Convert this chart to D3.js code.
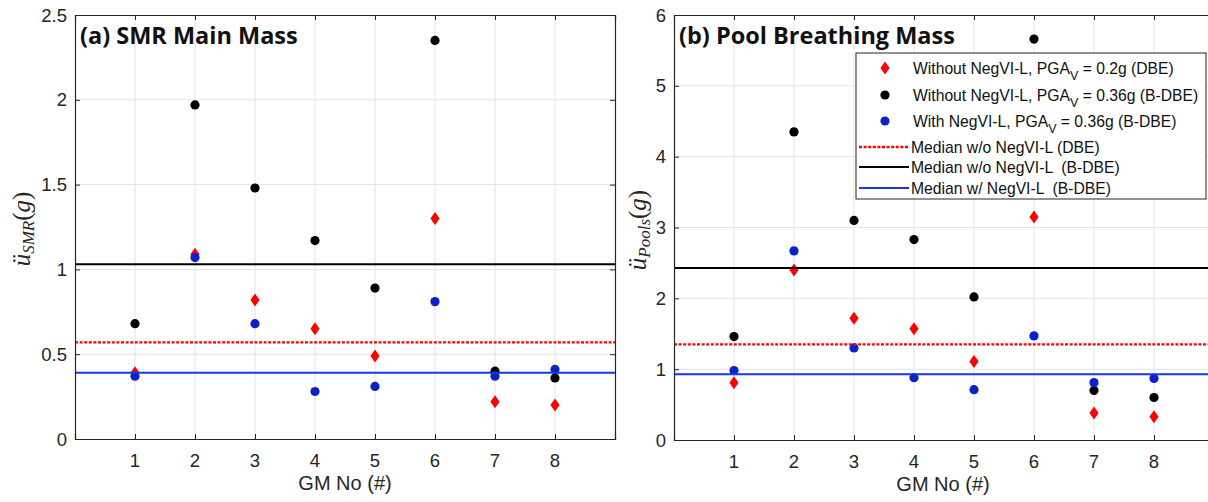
<!DOCTYPE html>
<html>
<head>
<meta charset="utf-8">
<script src="https://cdn.jsdelivr.net/npm/d3@7"></script>
<style>
    body { margin: 0; background: #fff; }
    svg { display: block; font-family: "Liberation Sans", Arial, sans-serif; }
    .grid line { stroke: #e3e3e3; stroke-width: 1; }
    .tick-lbl { font-size: 18.5px; fill: #262626; }
</style>
</head>
<body>
<svg id="chart" width="1208" height="502"></svg>
<script>
// ground motion numbers
const gmNo = [1, 2, 3, 4, 5, 6, 7, 8];

// (a) SMR main mass peak acceleration (g)
const smrDBE   = [0.39, 1.09, 0.82, 0.65, 0.49, 1.30, 0.22, 0.20];
const smrBDBE  = [0.68, 1.97, 1.48, 1.17, 0.89, 2.35, 0.40, 0.36];
const smrNegVI = [0.37, 1.07, 0.68, 0.28, 0.31, 0.81, 0.37, 0.41];
const smrMedians = [0.57, 1.03, 0.39];   // DBE, B-DBE, with NegVI-L

// (b) pool breathing mass peak acceleration (g)
const poolDBE   = [0.81, 2.40, 1.72, 1.57, 1.11, 3.15, 0.38, 0.33];
const poolBDBE  = [1.46, 4.35, 3.10, 2.83, 2.02, 5.66, 0.70, 0.60];
const poolNegVI = [0.98, 2.67, 1.30, 0.88, 0.71, 1.47, 0.81, 0.87];
const poolMedians = [1.35, 2.43, 0.93];

const smrTicks  = [0, 0.5, 1, 1.5, 2, 2.5];
const poolTicks = [0, 1, 2, 3, 4, 5, 6];

const legendLabels = [
    ['Without NegVI-L, PGA', 'V', ' = 0.2g (DBE)'],
    ['Without NegVI-L, PGA', 'V', ' = 0.36g (B-DBE)'],
    ['With NegVI-L, PGA', 'V', ' = 0.36g (B-DBE)'],
    ['Median w/o NegVI-L (DBE)'],
    ['Median w/o NegVI-L  (B-DBE)'],
    ['Median w/ NegVI-L  (B-DBE)']
];

const RED = '#ff0000', BLACK = '#000000', BLUE = '#0a22c8', BLUE_LINE = '#1638e0';
const AXIS = '#262626';

const svg = d3.select('#chart');
// MATLAB-like diamond marker
const diamondPath = 'M0,-6.5L4.6,0L0,6.5L-4.6,0Z';

function drawPanel(cfg) {
    const x = d3.scaleLinear().domain([0, 9]).range([cfg.left, cfg.right]);
    const y = d3.scaleLinear().domain([0, cfg.yMax]).range([cfg.bottom, cfg.top]);

    const g = svg.append('g');

    // grid
    const grid = g.append('g').attr('class', 'grid');
    grid.selectAll('.gx').data(gmNo).join('line')
        .attr('x1', d => x(d)).attr('x2', d => x(d))
        .attr('y1', cfg.top).attr('y2', cfg.bottom);
    grid.selectAll('.gy').data(cfg.ticks.slice(1, -1)).join('line')
        .attr('x1', cfg.left).attr('x2', cfg.right)
        .attr('y1', d => y(d)).attr('y2', d => y(d));

    // markers: red diamonds, black dots, blue dots
    g.selectAll('.dbe').data(cfg.dbe).join('path')
        .attr('d', diamondPath)
        .attr('transform', (d, i) => `translate(${x(gmNo[i])},${y(d)})`)
        .attr('fill', RED);
    g.selectAll('.bdbe').data(cfg.bdbe).join('circle')
        .attr('cx', (d, i) => x(gmNo[i])).attr('cy', d => y(d))
        .attr('r', 4.6).attr('fill', BLACK);
    g.selectAll('.neg').data(cfg.neg).join('circle')
        .attr('cx', (d, i) => x(gmNo[i])).attr('cy', d => y(d))
        .attr('r', 4.6).attr('fill', BLUE);

    // medians
    const med = [
        {v: cfg.medians[0], c: RED, dash: '3,1.6', w: 2.4},
        {v: cfg.medians[1], c: BLACK, dash: null, w: 2},
        {v: cfg.medians[2], c: BLUE_LINE, dash: null, w: 2}
    ];
    g.selectAll('.med').data(med).join('line')
        .attr('x1', cfg.left).attr('x2', cfg.right)
        .attr('y1', d => y(d.v)).attr('y2', d => y(d.v))
        .attr('stroke', d => d.c).attr('stroke-width', d => d.w)
        .attr('stroke-dasharray', d => d.dash);

    // box with inward ticks on all sides
    const xAxB = d3.axisBottom(x).tickValues(gmNo).tickSize(-5).tickFormat('');
    const xAxT = d3.axisTop(x).tickValues(gmNo).tickSize(-5).tickFormat('');
    const yAxL = d3.axisLeft(y).tickValues(cfg.ticks).tickSize(-5).tickFormat('');
    const yAxR = d3.axisRight(y).tickValues(cfg.ticks).tickSize(-5).tickFormat('');
    [[xAxB, `translate(0,${cfg.bottom})`], [xAxT, `translate(0,${cfg.top})`],
     [yAxL, `translate(${cfg.left},0)`], [yAxR, `translate(${cfg.right},0)`]].forEach(([ax, tr]) => {
        const a = g.append('g').attr('transform', tr).call(ax);
        a.select('.domain').attr('stroke', AXIS).attr('stroke-width', 1.2);
        a.selectAll('.tick line').attr('stroke', AXIS);
    });

    // tick labels
    g.selectAll('.xl').data(gmNo).join('text').attr('class', 'tick-lbl')
        .attr('x', d => x(d)).attr('y', cfg.bottom + 28)
        .attr('text-anchor', 'middle').text(d => d);
    g.selectAll('.yl').data(cfg.ticks).join('text').attr('class', 'tick-lbl')
        .attr('x', cfg.left - 8).attr('y', d => y(d) + 6.5)
        .attr('text-anchor', 'end').text(d => d);

    // axis labels
    g.append('text')
        .attr('x', (cfg.left + cfg.xLabelRight) / 2).attr('y', cfg.bottom + 51)
        .attr('text-anchor', 'middle').attr('font-size', 20).attr('fill', AXIS)
        .text('GM No (#)');

    const yl = g.append('text')
        .attr('transform', `translate(${cfg.yLabelX},${cfg.yLabelY}) rotate(-90)`)
        .attr('text-anchor', 'middle')
        .attr('font-family', '"Liberation Serif", "DejaVu Serif", serif')
        .attr('font-style', 'italic').attr('font-size', 25).attr('fill', AXIS);
    yl.append('tspan').text('ü');
    yl.append('tspan').attr('font-size', 17).attr('dy', 4).text(cfg.sub);
    yl.append('tspan').attr('dy', -4).attr('font-style', 'normal').text('(');
    yl.append('tspan').text('g');
    yl.append('tspan').attr('font-style', 'normal').text(')');

    // panel title
    g.append('text')
        .attr('x', cfg.left + 5).attr('y', cfg.top + 29)
        .attr('font-family', '"Open Sans", sans-serif').attr('font-weight', 700)
        .attr('font-size', 23.5).attr('fill', '#111')
        .text(cfg.title);

    return {x, y};
}

drawPanel({
    left: 75, right: 615, top: 15, bottom: 439, yMax: 2.5, ticks: smrTicks,
    dbe: smrDBE, bdbe: smrBDBE, neg: smrNegVI, medians: smrMedians,
    title: '(a) SMR Main Mass', sub: 'SMR', yLabelX: 30, yLabelY: 229, xLabelRight: 615
});

drawPanel({
    left: 674, right: 1214, top: 15, bottom: 440, yMax: 6, ticks: poolTicks,
    dbe: poolDBE, bdbe: poolBDBE, neg: poolNegVI, medians: poolMedians,
    title: '(b) Pool Breathing Mass', sub: 'Pools', yLabelX: 646, yLabelY: 230, xLabelRight: 1212
});

// legend (panel b)
const lg = svg.append('g').attr('transform', 'translate(856,53)');
lg.append('rect').attr('width', 350).attr('height', 146)
    .attr('fill', '#fff').attr('stroke', AXIS).attr('stroke-width', 1);

const rowY = [15, 42, 68, 94, 114, 135];
const legendKeys = [
    {type: 'diamond', c: RED}, {type: 'dot', c: BLACK}, {type: 'dot', c: BLUE},
    {type: 'line', c: RED, dash: '3,1.6', w: 2.4}, {type: 'line', c: BLACK, w: 2},
    {type: 'line', c: BLUE_LINE, w: 2}
];
legendKeys.forEach((k, i) => {
    const ry = rowY[i];
    if (k.type === 'diamond') {
        lg.append('path').attr('d', diamondPath)
            .attr('transform', `translate(29,${ry})`).attr('fill', k.c);
    } else if (k.type === 'dot') {
        lg.append('circle').attr('cx', 29).attr('cy', ry).attr('r', 4.6).attr('fill', k.c);
    } else {
        lg.append('line').attr('x1', 3).attr('x2', 53).attr('y1', ry).attr('y2', ry)
            .attr('stroke', k.c).attr('stroke-width', k.w).attr('stroke-dasharray', k.dash || null);
    }
    const parts = legendLabels[i];
    const t = lg.append('text').attr('x', i < 3 ? 57 : 55).attr('y', ry + 6)
        .attr('font-size', 15.7).attr('fill', '#111').attr('xml:space', 'preserve');
    t.append('tspan').text(parts[0]);
    if (parts.length > 1) {
        t.append('tspan').attr('font-size', 12.5).attr('dy', 6).text(parts[1]);
        t.append('tspan').attr('dy', -6).text(parts[2]);
    }
});
</script>
</body>
</html>
